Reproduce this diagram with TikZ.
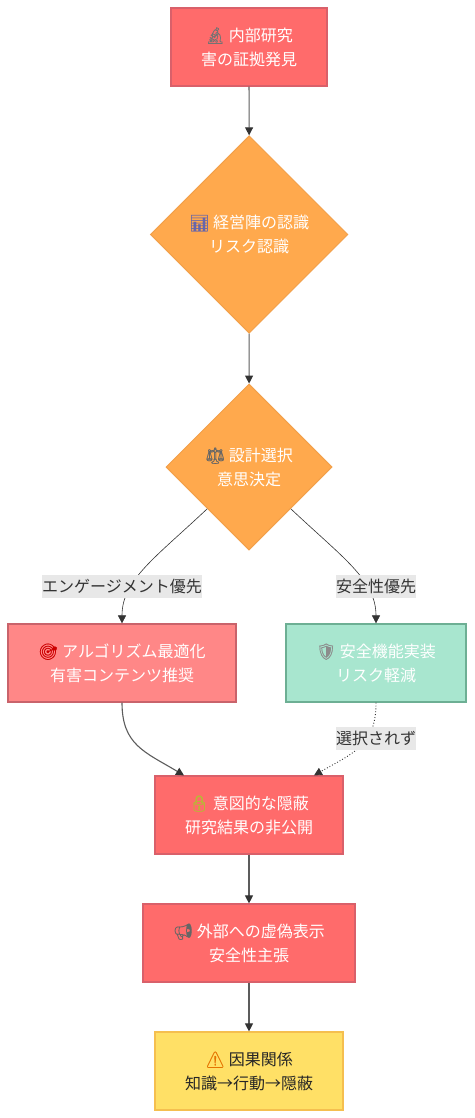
\documentclass[tikz,border=0pt]{standalone}
\usepackage{fontspec}
\setmainfont{Noto Sans CJK JP}
\newfontfamily\emo[FakeBold=0.5]{Noto Emoji}
\usetikzlibrary{shapes.geometric,arrows.meta,calc}
\definecolor{redfill}{HTML}{FF6B6B}
\definecolor{redline}{HTML}{D9606A}
\definecolor{pinkfill}{HTML}{FF8787}
\definecolor{pinkline}{HTML}{C9636B}
\definecolor{orangefill}{HTML}{FFA94D}
\definecolor{orangeline}{HTML}{F2A04A}
\definecolor{greenfill}{HTML}{A8E6CF}
\definecolor{greenline}{HTML}{6DAF94}
\definecolor{yellowfill}{HTML}{FFE066}
\definecolor{yellowline}{HTML}{F5BF4F}
\definecolor{edgecol}{HTML}{333333}
\newcommand{\emj}[2]{{\emo\color{#1}#2}}
\tikzset{
  txt/.style={font=\fontsize{16}{24}\selectfont,align=center,text=white,inner sep=0pt},
  boxnode/.style={txt,rectangle,draw,line width=1.2pt,minimum height=78pt},
  rednode/.style={boxnode,fill=redfill,draw=redline},
  decide/.style={txt,diamond,aspect=1,fill=orangefill,draw=orangeline,line width=1pt},
  edge/.style={draw=edgecol!80,line width=1.1pt,-{Triangle[length=8pt,width=8pt,color=edgecol]}},
  thinedge/.style={draw=edgecol,line width=.6pt,-{Triangle[length=8pt,width=8pt]}},
  lab/.style={font=\fontsize{16}{20}\selectfont,text=edgecol,fill=black!9,inner xsep=0pt,inner ysep=2pt,minimum height=23pt}
}
\begin{document}
\begin{tikzpicture}[x=1pt,y=-1pt]
\useasboundingbox (0,0) rectangle (474,1118);
\node[rednode,minimum width=156pt] (n1) at (249,47) {\emj{black!55}{🔬} 内部研究\\害の証拠発見};
\node[decide,minimum width=197.5pt,minimum height=197.5pt] (d1) at (249.2,234.5) {\emj{blue!45!black!60}{📊} 経営陣の認識\\リスク認識};
\node[decide,minimum width=166pt,minimum height=166pt] (d2) at (249,467) {\emj{black!60}{⚖} 設計選択\\意思決定};
\node[boxnode,fill=pinkfill,draw=pinkline,minimum width=228pt] (n3) at (122,663) {\emj{red!80!black}{🎯} アルゴリズム最適化\\有害コンテンツ推奨};
\node[boxnode,fill=greenfill,draw=greenline,minimum width=180pt] (n4) at (376,663) {\emj{black!45}{🛡} 安全機能実装\\リスク軽減};
\node[rednode,minimum width=188pt] (n5) at (249,815) {\emj{yellow!70!black}{🔒} 意図的な隠蔽\\研究結果の非公開};
\node[rednode,minimum width=212pt] (n6) at (249,943) {\emj{black!60}{📢} 外部への虚偽表示\\安全性主張};
\node[boxnode,fill=yellowfill,draw=yellowline,text=black!85,minimum width=188pt] (n7) at (249,1071) {\emj{orange!90!black}{⚠} 因果関係\\知識→行動→隠蔽};
\coordinate (n5a) at ($(n5.north)+(-65,0)$);
\coordinate (n5b) at ($(n5.north)+(65,0)$);
\draw[edge] (n1) -- (d1);
\draw[edge] (d1) -- (d2);
\draw[edge] (n6) -- (n7);
\draw[edge] (n5) -- (n6);
\draw[thinedge] (d2.south west) .. controls (155,558) and (122,580) .. (n3.north);
\draw[thinedge] (d2.south east) .. controls (343,558) and (376,580) .. (n3.north -| n4.north);
\draw[edge] (n3.south) .. controls (122,745) and (145,752) .. (n5a);
\draw[thinedge,line width=.9pt,dotted] (n4.south) .. controls (376,745) and (355,752) .. (n5b);
\node[lab] (l1) at (122,586.5) {エンゲージメント優先};
\node[lab] (l2) at (376,586.5) {安全性優先};
\node[lab] (l3) at (376,738.5) {選択されず};
\end{tikzpicture}
\end{document}
